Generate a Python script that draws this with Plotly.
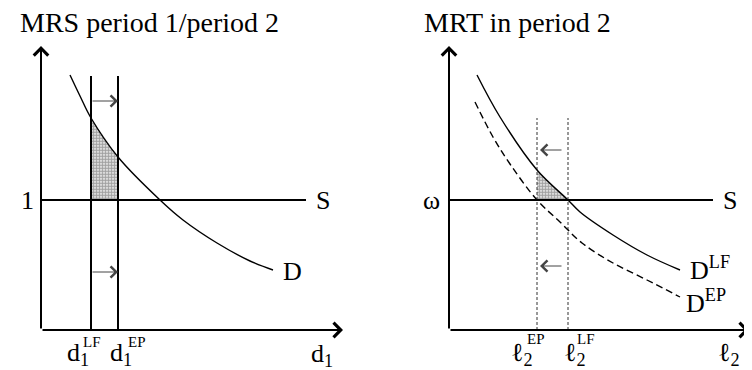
import plotly.graph_objects as go

FONT = "Liberation Serif"

# ---------------- data (economic units, origin at axes corner) ----------------
# Left panel: MRS period 1 / period 2
left_axis_x_end = 30.2
left_axis_y_end = 28.4
S_level_left = 13.0
S_end_left = 26.5
d_LF = 5.0
d_EP = 7.7
vline_top_left = 25.4
D_x = [2.9, 3.9, 5.0, 7.7, 11.9, 14.2, 17.6, 20.9, 23.2]
D_y = [25.5, 23.4, 21.2, 17.3, 13.0, 11.0, 8.7, 6.9, 6.0]
left_arrow_levels = [22.9, 5.8]

# Right panel: MRT in period 2
right_axis_x_end = 30.0
right_axis_y_end = 28.4
S_level_right = 13.0
S_end_right = 26.4
l_EP = 8.8
l_LF = 11.9
vline_top_right = 21.2
DLF_x = [2.8, 5.1, 8.8, 11.9, 13.1, 16.4, 19.8, 23.1]
DLF_y = [25.5, 21.3, 16.0, 13.0, 11.8, 9.5, 7.5, 6.0]
DEP_x = [2.6, 4.4, 6.1, 8.8, 11.1, 13.3, 16.4, 19.8, 23.1]
DEP_y = [22.8, 19.3, 16.6, 13.0, 10.8, 8.7, 6.7, 5.0, 3.3]
right_arrow_levels = [18.0, 6.4]
right_arrow_from = 11.4
right_arrow_to = 9.1

fig = go.Figure()

def line(x, y, ax="", width=2, color="black", dash="solid", shape="linear"):
    fig.add_trace(go.Scatter(x=x, y=y, mode="lines", xaxis="x" + ax, yaxis="y" + ax,
                             line=dict(color=color, width=width, dash=dash, shape=shape,
                                       smoothing=1.0),
                             hoverinfo="skip", cliponaxis=False))

def area(x, y, ax=""):
    fig.add_trace(go.Scatter(x=x, y=y, mode="lines", xaxis="x" + ax, yaxis="y" + ax,
                             fill="toself", line=dict(width=0, color="rgba(0,0,0,0)"),
                             fillcolor="white",
                             fillpattern=dict(shape=".", size=3, solidity=0.7,
                                              fgcolor="#444444", bgcolor="white"),
                             hoverinfo="skip"))

# ---------- left panel ----------
i_LF = D_x.index(d_LF)
i_EP = D_x.index(d_EP)
area([d_LF] + D_x[i_LF:i_EP + 1] + [d_EP], [S_level_left] + D_y[i_LF:i_EP + 1] + [S_level_left])
line([d_LF, d_LF], [0, vline_top_left], width=2)
line([d_EP, d_EP], [0, vline_top_left], width=2)
line([0, S_end_left], [S_level_left, S_level_left], width=2)
line(D_x, D_y, width=1.4, shape="spline")

# ---------- right panel ----------
j_EP = DLF_x.index(l_EP)
j_LF = DLF_x.index(l_LF)
area([l_EP] + DLF_x[j_EP:j_LF + 1], [S_level_right] + DLF_y[j_EP:j_LF + 1], ax="2")
line([l_EP, l_EP], [0, vline_top_right], ax="2", width=1, color="#333", dash="3px,2px")
line([l_LF, l_LF], [0, vline_top_right], ax="2", width=1, color="#333", dash="3px,2px")
line([0, S_end_right], [S_level_right, S_level_right], ax="2", width=2)
line(DLF_x, DLF_y, ax="2", width=1.4, shape="spline")
line(DEP_x, DEP_y, ax="2", width=1.4, dash="7px,4px", shape="spline")

annotations = []

def arrow(x0, y0, x1, y1, ax="", width=2, color="black", size=1.4):
    annotations.append(dict(x=x1, y=y1, ax=x0, ay=y0, xref="x" + ax, yref="y" + ax,
                            axref="x" + ax, ayref="y" + ax, text="", showarrow=True,
                            arrowhead=4, arrowwidth=width, arrowsize=size,
                            arrowcolor=color, standoff=0))

def text(x, y, s, ax="", size=26, xanchor="center", yanchor="middle"):
    annotations.append(dict(x=x, y=y, xref="x" + ax, yref="y" + ax, text=s,
                            showarrow=False, xanchor=xanchor, yanchor=yanchor,
                            font=dict(family=FONT, size=size, color="black")))

# axes arrows
arrow(0, 0, left_axis_x_end, 0)
arrow(0, 0, 0, left_axis_y_end)
arrow(0, 0, right_axis_x_end, 0, ax="2")
arrow(0, 0, 0, right_axis_y_end, ax="2")
# shift arrows
for lv in left_arrow_levels:
    arrow(d_LF, lv, d_EP, lv, width=1, color="#444", size=2.2)
for lv in right_arrow_levels:
    arrow(right_arrow_from, lv, right_arrow_to, lv, ax="2", width=1, color="#444", size=2.2)

# titles
text(10.8, 30.8, "MRS period 1/period 2", size=28)
text(6.8, 30.8, "MRT in period 2", ax="2", size=28)

# left labels
text(-1.4, S_level_left, "1")
text(28.2, S_level_left, "S")
text(25.1, 5.9, "D")
text(3.65, -2.4, "d<sub>1</sub>")
text(5.05, -1.2, "LF", size=15)
text(7.95, -2.4, "d<sub>1</sub>")
text(9.55, -1.2, "EP", size=15)
text(28.05, -2.5, "d<sub>1</sub>")

# right labels
text(-1.8, S_level_right, "ω", ax="2")
text(28.1, S_level_right, "S", ax="2")
text(23.9, 6.2, "D<sup>LF</sup>", ax="2", xanchor="left")
text(23.5, 2.9, "D<sup>EP</sup>", ax="2", xanchor="left")
text(7.3, -2.4, "ℓ<sub>2</sub>", ax="2")
text(8.7, -0.9, "EP", ax="2", size=15)
text(12.55, -2.4, "ℓ<sub>2</sub>", ax="2")
text(13.7, -0.9, "LF", ax="2", size=15)
text(27.95, -2.4, "ℓ<sub>2</sub>", ax="2")

# The page body has an 8 px default margin: the figure is 744x362 and its
# axes are laid out so that the drawing lands where the reference has it.
fig.update_layout(
    width=744, height=362,
    margin=dict(l=0, r=0, t=0, b=0),
    paper_bgcolor="white", plot_bgcolor="white",
    showlegend=False,
    xaxis=dict(domain=[0, 368 / 744], range=[-3.3, 33.5], visible=False, fixedrange=True),
    yaxis=dict(domain=[0, 1], range=[-4.0, 32.2], visible=False, fixedrange=True),
    xaxis2=dict(domain=[368 / 744, 1], range=[-7.3, 30.3], visible=False, fixedrange=True, anchor="y2"),
    yaxis2=dict(domain=[0, 1], range=[-4.0, 32.2], visible=False, fixedrange=True, anchor="x2"),
    annotations=annotations,
    font=dict(family=FONT, color="black"),
)

fig.write_html("out.html")
